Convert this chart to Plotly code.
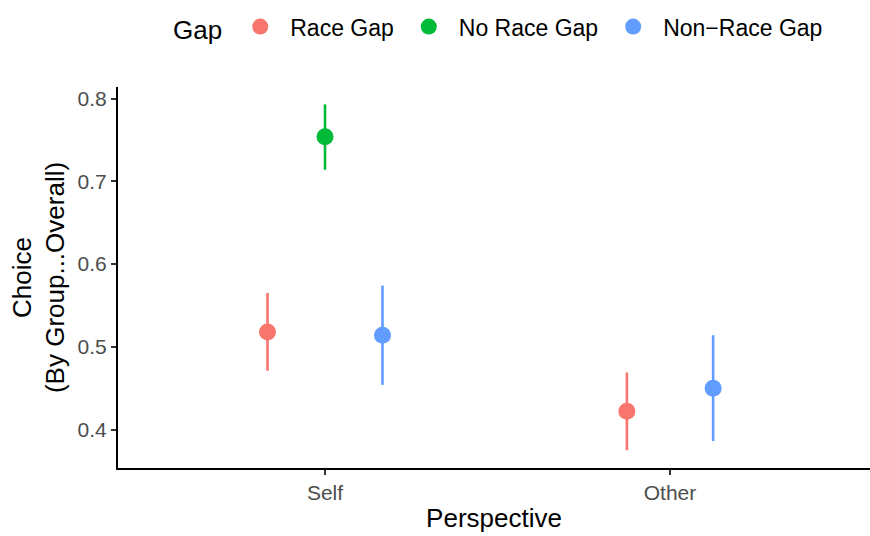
import plotly.graph_objects as go

perspectives = ["Self", "Other"]
gaps = ["Race Gap", "No Race Gap", "Non\u2212Race Gap"]
colors = {"Race Gap": "#F8766D", "No Race Gap": "#00BA38", "Non\u2212Race Gap": "#619CFF"}

# estimates per gap, per perspective (None = missing)
est = {
    "Race Gap":          [0.518, 0.422],
    "No Race Gap":       [0.754, None],
    "Non\u2212Race Gap": [0.514, 0.450],
}
lower = {
    "Race Gap":          [0.471, 0.375],
    "No Race Gap":       [0.714, None],
    "Non\u2212Race Gap": [0.454, 0.386],
}
upper = {
    "Race Gap":          [0.565, 0.469],
    "No Race Gap":       [0.793, None],
    "Non\u2212Race Gap": [0.574, 0.514],
}

dodge = 0.5
fig = go.Figure()
for pi, p in enumerate(perspectives):
    present = [g for g in gaps if est[g][pi] is not None]
    n = len(present)
    for k, g in enumerate(present):
        off = dodge * ((k + 0.5) / n - 0.5)
        v = est[g][pi]
        fig.add_trace(go.Scatter(
            x=[pi + off], y=[v], mode="markers",
            marker=dict(color=colors[g], size=17),
            error_y=dict(type="data", symmetric=False,
                         array=[upper[g][pi] - v], arrayminus=[v - lower[g][pi]],
                         color=colors[g], thickness=2.6, width=0),
            name=g, legendgroup=g, showlegend=(pi == 0),
        ))

fig.update_layout(
    width=870, height=536,
    margin=dict(l=118, r=0, t=87, b=68),
    plot_bgcolor="white", paper_bgcolor="white",
    font=dict(family="Liberation Sans, Arial, sans-serif", color="black"),
    legend=dict(orientation="h", x=0.0706, xanchor="left", y=1.215, yanchor="top",
                title=dict(text="Gap", font=dict(size=26)),
                font=dict(size=23), itemsizing="trace", itemwidth=50),
    xaxis=dict(range=[-0.6, -0.6 + 752 / 345], tickvals=[0, 1], ticktext=perspectives,
               showline=True, linecolor="black", linewidth=2, ticks="outside",
               ticklen=5, tickcolor="#333333", tickwidth=1.5,
               tickfont=dict(size=21, color="#4D4D4D"), showgrid=False, zeroline=False,
               title=dict(text="Perspective", font=dict(size=26), standoff=6)),
    yaxis=dict(range=[0.3535, 0.814], tickvals=[0.4, 0.5, 0.6, 0.7, 0.8],
               ticktext=["0.4", "0.5", "0.6", "0.7", "0.8"],
               showline=True, linecolor="black", linewidth=2, ticks="outside",
               ticklen=5, tickcolor="#333333", tickwidth=1.5,
               tickfont=dict(size=21, color="#4D4D4D"), showgrid=False, zeroline=False,
               title=dict(text="Choice<br>(By Group...Overall)", font=dict(size=26), standoff=5)),
)

fig.write_html("out.html", config={"responsive": False, "displayModeBar": False},
               post_script="document.body.style.margin='0';document.body.style.overflow='hidden';")
